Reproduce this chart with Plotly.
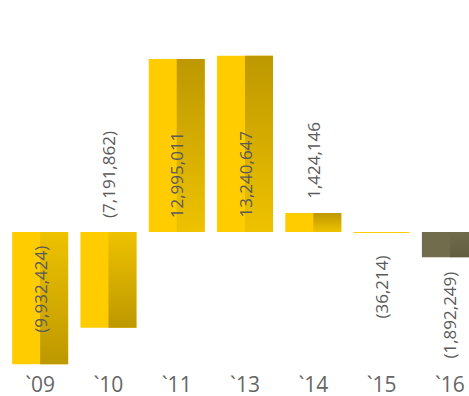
import plotly.graph_objects as go

categories = ["`09", "`10", "`11", "`13", "`14", "`15", "`16"]
values = [-9932424, -7191862, 12995011, 13240647, 1424146, -36214, -1892249]
labels = ["(9,932,424)", "(7,191,862)", "12,995,011", "13,240,647", "1,424,146", "(36,214)", "(1,892,249)"]
base_colors = ["#FFCC00"] * 6 + ["#716C4B"]
# right-half gradient: (near zero, far end)
shade_colors = [("#EEC200", "#BD9800")] * 6 + [("#716C4B", "#625D41")]
# label placement: (reference, anchor, shift px)
label_pos = [("zero", "top", -12), ("zero", "bottom", 12), ("zero", "bottom", 12),
             ("zero", "bottom", 12), ("value", "bottom", 12), ("value", "top", -21),
             ("value", "top", -12)]

BW = 0.82
xs = list(range(len(categories)))

fig = go.Figure()
fig.add_trace(go.Bar(x=xs, y=values, width=BW, marker=dict(color=base_colors, line=dict(width=0)),
                     hoverinfo="skip", showlegend=False))

for i, v in enumerate(values):
    near, far = shade_colors[i]
    px = [i, i + BW / 2, i + BW / 2, i, i]
    py = [0, 0, v, v, 0]
    if v >= 0:
        cs = [[0, near], [1, far]]
    else:
        cs = [[0, far], [1, near]]
    fig.add_trace(go.Scatter(x=px, y=py, mode="lines", line=dict(width=0), fill="toself",
                             fillgradient=dict(type="vertical", colorscale=cs),
                             hoverinfo="skip", showlegend=False))

for i, (v, t) in enumerate(zip(values, labels)):
    ref, anc, sh = label_pos[i]
    fig.add_annotation(x=i, y=0 if ref == "zero" else v, text=t, textangle=-90,
                       showarrow=False, yanchor=anc, xanchor="center", yshift=sh,
                       font=dict(family="Open Sans, Noto Sans, sans-serif", size=17, color="#5A5A5A"))

fig.update_layout(
    width=469, height=396,
    margin=dict(l=6, r=0, t=20, b=26),
    paper_bgcolor="white", plot_bgcolor="white",
    barmode="overlay",
    xaxis=dict(range=[-0.5, 6.28], tickvals=xs, ticktext=categories, showgrid=False,
               zeroline=False, showline=False, ticks="", automargin=False,
               tickfont=dict(family="Open Sans, Noto Sans, sans-serif", size=21, color="#666666")),
    yaxis=dict(range=[-10370000, 15930000], visible=False, showgrid=False, zeroline=False,
               automargin=False),
)

fig.write_html("out.html", config={"displayModeBar": False})
with open("out.html", encoding="utf-8") as f:
    html = f.read()
html = html.replace("<body>", '<body style="margin:0;overflow:hidden">', 1)
with open("out.html", "w", encoding="utf-8") as f:
    f.write(html)
